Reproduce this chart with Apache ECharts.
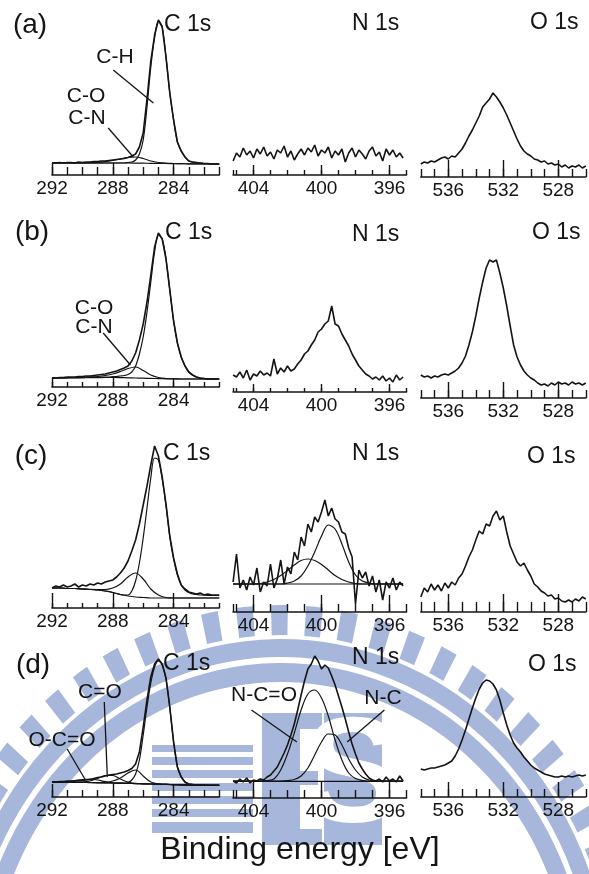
<!DOCTYPE html>
<html><head><meta charset="utf-8">
<script src="https://cdn.jsdelivr.net/npm/echarts@6/dist/echarts.min.js"></script>
<style>html,body{margin:0;padding:0;background:#fff}#c{width:589px;height:874px}</style>
</head><body><div id="c"></div>
<script>
// ---------- energy grids (eV) ----------
const eC = [292,291.75,291.5,291.25,291,290.75,290.5,290.25,290,289.75,289.5,289.25,289,288.75,288.5,288.25,288,287.75,287.5,287.25,287,286.75,286.5,286.25,286,285.75,285.5,285.25,285,284.75,284.5,284.25,284,283.75,283.5,283.25,283,282.75,282.5,282.25,282,281.75,281.5,281.25,281];
const eCc = [292,291.5,291,290.5,290,289.5,289,288.5,288,287.5,287,286.5,286,285.5,285,284.5,284,283.5,283,282.5,282,281.5,281];
const eN = [405.2,405,404.8,404.6,404.4,404.2,404,403.8,403.6,403.4,403.2,403,402.8,402.6,402.4,402.2,402,401.8,401.6,401.4,401.2,401,400.8,400.6,400.4,400.2,400,399.8,399.6,399.4,399.2,399,398.8,398.6,398.4,398.2,398,397.8,397.6,397.4,397.2,397,396.8,396.6,396.4,396.2,396,395.8,395.6,395.4,395.2];
const eNc = [405.2,404.8,404.4,404,403.6,403.2,402.8,402.4,402,401.6,401.2,400.8,400.4,400,399.6,399.2,398.8,398.4,398,397.6,397.2,396.8,396.4,396,395.6,395.2];
const eNb = [405.2,395.2];
const eO = [538,537.75,537.5,537.25,537,536.75,536.5,536.25,536,535.75,535.5,535.25,535,534.75,534.5,534.25,534,533.75,533.5,533.25,533,532.75,532.5,532.25,532,531.75,531.5,531.25,531,530.75,530.5,530.25,530,529.75,529.5,529.25,529,528.75,528.5,528.25,528,527.75,527.5,527.25,527,526.75,526.5,526.25,526];

// ---------- tick labels ----------
const cTicks = [292,288,284];
const nTicks = [404,400,396];
const oTicks = [536,532,528];

// ---------- (a) ----------
const aC    = [12,12,12.5,12,12.5,12.5,12,13,12.5,13, 13,13.5,13.5,14,14,14.5,15,15.5,16,16.5, 17.5,19,21,28,42,76,114,140,155,148, 118,82,55,33,24,18,14,13,12.5,12, 11.5,11.5,11,11,11];
const aC_CH = [12,12,12,12,12,12,12,12,12,12, 12,12,12,12,12,12,12,12,12,12, 12.5,13,15,21,35,68,108,137,154,148, 118,82,55,33,24,18,14,13,12.5,12, 11.5,11.5,11,11,11];
const aC_CO = [12,12,12,12,12,12.3,12.7,13.5,14.5,16,17.5,18,16.5,14,12.5,11.8,11.5,11.3,11.2,11.1,11,11,11];
const aC_bg = [12,12,12,12,12,12,12,12,12,12,12,11.9,11.8,11.7,11.6,11.5,11.4,11.3,11.2,11.1,11,11,11];
const aN = [14,22,18,27,20,24,17,26,21,28, 19,23,16,25,22,29,18,24,15,21, 26,20,27,23,30,19,25,22,28,17, 24,20,26,13,22,27,18,25,21,16, 24,28,19,23,14,26,20,25,18,22, 17];
const aO = [13,15,14,16,15,17,19,20,18,21, 20,24,28,34,41,47,54,61,70,74, 78,84,80,75,69,62,54,46,38,31, 26,23,21,18,17,15,16,13,14,12, 13,10,12,9,11,10,12,9,11];

// ---------- (b) ----------
const bC    = [9,9,9.5,9.5,10,10,10,10.5,10.5,11, 11,11.5,12,12.5,13,14,15,16,17.5,19, 21,26,34,47,63,85,112,140,154,148, 128,97,66,44,30,21,15,12,10,9, 8.5,8,8,8,8];
const bC_CH = [9,9,9,9,9.5,9.5,9.5,9.5,9.5,10, 10,10,10,10,10,10,10.5,10.5,11,11.5, 12.5,15,21,33,50,75,105,135,152,148, 128,97,66,44,30,21,15,12,10,9, 8.5,8,8,8,8];
const bC_CO = [9,9,9.2,9.4,9.6,10,10.5,11.5,13,15.5,18.5,20,16.5,12,9.5,8.5,8.2,8,8,8,8,8,8];
const bC_bg = [9,9,9,9.1,9.2,9.3,9.4,9.5,9.5,9.4,9.2,9,8.8,8.6,8.4,8.2,8.1,8,8,8,8,8,8];
const bN = [17,15,20,14,22,12,18,16,21,17, 19,16,33,18,24,20,26,21,23,28, 32,38,41,47,52,60,63,68,71,86, 68,66,58,52,46,38,32,26,22,18, 16,13,15,12,16,11,14,10,17,12, 15];
const bO = [23,21,22,20,22,21,23,24,23,25, 27,30,35,42,53,66,82,100,116,130, 138,136,138,125,110,92,72,53,41,33, 27,23,20,18,15,13,14,12,15,13, 16,14,15,13,16,14,15,13,15];

// ---------- (c) ----------
const cC    = [20,22,21,23,21,22,24,21,23,22, 24,23,25,24,26,27,28,31,35,40, 47,57,68,84,103,122,143,162,152,131, 104,72,50,34,23,19,16,15,14,15, 13,14,13,13,13];
const cC_CH = [20,20,20,20,19.5,19.5,19.5,19.5,19,19, 18.5,18.5,18,17.5,17,16.5,15.5,14.5,13.5,13, 13,17,27,45,70,100,130,150,148,129, 102,71,49,33,23,18,15.5,14,13.5,13, 13,12.5,12.5,12.5,12.5];
const cC_CO = [20,20,19.5,19.5,19,18.6,18.5,18.5,20,24,31,35,29,19,13,10.5,10,10,10,10,10,10,10];
const cC_bg = [20,20,19.5,19.5,19,18.5,18,17,15.5,13.5,12,11,10.5,10,10,10,10,10,10,10,10,10,10];
const cN = [30,58,24,32,22,35,27,44,20,30, 26,48,24,33,52,28,45,38,60,52, 75,66,88,80,95,90,100,112,96,104, 93,90,80,78,64,55,8,42,34,40, 26,36,20,32,12,30,24,34,22,30, 26];
const cN_c1 = [28,28,28,28,28.5,30,32.5,36.5,41.5,47,51.5,53,51.5,47.5,42,36.5,32.5,30,28.5,28,28,28,28,28,28,28];
const cN_c2 = [28,28,28,28,28,28,28,28,29,31,36,46,60,76,87,83,68,50,37,31,29,28,28,28,28,28];
const cN_bg = [28,28];
const cO = [15,24,20,28,22,27,21,29,24,30, 27,34,38,46,55,62,72,81,78,88, 86,96,101,92,96,80,66,58,50,46, 49,42,36,28,25,21,19,16,17,13, 14,11,10,12,10,13,11,15,13];

// ---------- (d) ----------
const dC     = [15,15,15.5,15.5,16,16,16,16.5,16.5,17, 17.5,18.5,19.5,20,21,22,22.5,23,24,25, 26.5,28.5,33,45,70,97,120,133,138,133, 119,90,55,30,20,15,13,12.5,12,12, 11.7,11.7,11.7,11.7,11.7];
const dC_CH  = [15,15,15,14.9,14.8,14.8,14.7,14.6,14.5,14.5, 14.4,14.3,14.2,14.2,14.1,14,14,13.9,13.8,13.8, 14.5,17,23,37,62,90,114,130,136,132, 118,89,55,30,20,15,13,12.5,12,12, 11.7,11.7,11.7,11.7,11.7];
const dC_CN  = [15,15,15,14.8,14.7,14.5,14.4,14.5,16,19,24,27,21,15,13,12.6,12.4,12.2,12,11.9,11.8,11.7,11.7];
const dC_CdO = [15,15,15,14.8,15,16,18.5,21.5,21.5,18,15,13.6,13.2,13,12.8,12.6,12.4,12.2,12,11.9,11.8,11.7,11.7];
const dC_OCO = [15,15,15.3,16.3,17.5,18,17,15.3,14.2,13.8,13.6,13.4,13.2,13,12.8,12.6,12.4,12.2,12,11.9,11.8,11.7,11.7];
const dC_bg  = [15,15,15,14.8,14.7,14.5,14.4,14.2,14,13.8,13.6,13.4,13.2,13,12.8,12.6,12.4,12.2,12,11.9,11.8,11.7,11.7];
const dN = [17,15,19,16,20,15,18,17,19,18, 21,23,27,31,38,45,53,63,74,88, 103,117,129,134,142,137,129,133,130,122, 113,102,91,79,66,54,44,35,29,24, 20,18,17,19,16,21,17,19,16,22, 17];
const dN_NCO = [17,17,17,17,17,17.5,19,28,44,65,88,104,108,100,82,58,38,25,19.5,17.5,17,17,17,17,17,17];
const dN_NC  = [17,17,17,17,17,17,17,17,17.5,18.5,22,30,43,56,64,63,53,39,28,21,18,17,17,17,17,17];
const dN_bg  = [16.7,16.7];
const dO = [28,27,28,29,29,30,31,32,34,36, 41,48,57,67,78,89,99,108,114,117, 116,113,107,97,84,72,62,54,49,45, 40,36,32,29,27,25,23,22,21,20, 20,21,20,21,20,21,22,21,22];

// ---------- annotation pointers [eV, height] ----------
const aPtrCH  = [[287.97,105],[285.33,72]];
const aPtrCO  = [[288.3,47],[286.65,18]];
const bPtrCO  = [[288.63,54],[286.84,22]];
const dPtrCdO = [[288.56,95],[288.36,20]];
const dPtrOCO = [[291.0,48],[289.8,17]];
const dPtrNCO = [[404.12,88],[401.45,56]];
const dPtrNC  = [[396.3,88],[398.49,56]];

// ================= build =================
const INK = '#141414';
const FONT = '"Liberation Sans", Arial, Helvetica, sans-serif';
const H = 170;
const cols = [
  {left:52,    width:167.2, min:281, max:292,   ticks:cTicks},
  {left:233.1, width:173.4, min:395, max:405.2, ticks:nTicks},
  {left:420.8, width:165,   min:526, max:538,   ticks:oTicks}
];
const rows = [
  {base:[175,175,177], minor:[8,5,8],  major:[12,10,17]},
  {base:[387,392,398], minor:[5,4,8],  major:[9,8,16]},
  {base:[608,612,612], minor:[5,8,10], major:[15,17,18]},
  {base:[797,798,797], minor:[7,8,8],  major:[13,17,15]}
];
const panelSeries = [
  [ [[eC,aC,0],[eC,aC_CH,1],[eCc,aC_CO,1],[eCc,aC_bg,1]], [[eN,aN,0]], [[eO,aO,0]] ],
  [ [[eC,bC,0],[eC,bC_CH,1],[eCc,bC_CO,1],[eCc,bC_bg,1]], [[eN,bN,0]], [[eO,bO,0]] ],
  [ [[eC,cC,0],[eC,cC_CH,1],[eCc,cC_CO,1],[eCc,cC_bg,1]], [[eN,cN,0],[eNc,cN_c1,1],[eNc,cN_c2,1],[eNb,cN_bg,1]], [[eO,cO,0]] ],
  [ [[eC,dC,0],[eC,dC_CH,1],[eCc,dC_CN,1],[eCc,dC_CdO,1],[eCc,dC_OCO,1],[eCc,dC_bg,1]], [[eN,dN,0],[eNc,dN_NCO,1],[eNc,dN_NC,1],[eNb,dN_bg,1]], [[eO,dO,0]] ]
];
const pointers = [[0,aPtrCH],[0,aPtrCO],[3,bPtrCO],[9,dPtrCdO],[9,dPtrOCO],[10,dPtrNCO],[10,dPtrNC]];

const zip = (e,v) => e.map((x,i) => [x, v[i]]);
const grid = [], xAxis = [], yAxis = [], series = [];
rows.forEach((r, ri) => {
  cols.forEach((c, ci) => {
    const k = ri*3 + ci;
    grid.push({left:c.left, width:c.width, top:r.base[ci]-H, height:H, containLabel:false, z:5});
    const tickStyle = {color:INK, width:1.4};
    xAxis.push({type:'value', gridIndex:k, inverse:true, min:c.min, max:c.max, interval:1, position:'bottom', z:5,
      axisLine:{show:true, onZero:false, lineStyle:{color:INK, width:1.6}},
      axisTick:{show:true, inside:true, length:r.minor[ci], lineStyle:tickStyle},
      axisLabel:{show:false}, splitLine:{show:false}});
    xAxis.push({type:'value', gridIndex:k, inverse:true, min:c.min, max:c.max, position:'bottom', z:5,
      axisLine:{show:false, onZero:false},
      axisTick:{show:true, inside:true, length:r.major[ci], customValues:c.ticks, lineStyle:tickStyle},
      axisLabel:{show:true, customValues:c.ticks, color:INK, fontSize:19, fontFamily:FONT, margin:4,
                 showMinLabel:true, showMaxLabel:true},
      splitLine:{show:false}});
    yAxis.push({type:'value', gridIndex:k, min:0, max:H, show:false});
    panelSeries[ri][ci].forEach(([e, v, fit]) => {
      series.push({type:'line', xAxisIndex:2*k, yAxisIndex:k, data:zip(e, v), symbol:'none', z:6,
        smooth: fit ? 0.35 : false, silent:true, animation:false, clip:false,
        lineStyle:{color:INK, width: fit ? 1.2 : 1.6}});
    });
  });
});
pointers.forEach(([k, pts]) => {
  series.push({type:'line', xAxisIndex:2*k, yAxisIndex:k, data:pts, symbol:'none', silent:true, z:6,
    animation:false, clip:false, lineStyle:{color:INK, width:1.3}});
});

function txt(s, x, y, size, align) {
  return {type:'text', x:x, y:y, silent:true, z:100,
    style:{text:s, fill:INK, font: size + 'px ' + FONT, fontSize:size, fontFamily:FONT,
      align: align || 'center', verticalAlign:'middle',
      textAlign: align || 'center', textVerticalAlign:'middle'}};
}
// ---------- background watermark (decorative, elliptical seal) ----------
const WM = '#a7b7db';
const deg = Math.PI/180;
const ring = [];
function sector(r0, r, a0, a1) {
  return {type:'sector', z:-20, silent:true,
    shape:{cx:0, cy:0, r0:r0, r:r, startAngle:a0*deg, endAngle:a1*deg, clockwise:true},
    style:{fill:WM}};
}
ring.push(sector(343, 361, 185, 355));
ring.push(sector(318, 337, 185, 355));
for (let a = 190; a < 352; a += 5.6) ring.push(sector(365, 395, a, a + 2.7));
const wm = [{type:'group', x:281, y:1000, scaleX:0.914, scaleY:1, z:-20, silent:true, children:ring}];
function rect(x, y, w, h, fill) {
  return {type:'rect', z:-19, silent:true, shape:{x:x, y:y, width:w, height:h}, style:{fill:fill || WM}};
}
wm.push(rect(152, 745, 101, 88));
for (let y = 752; y < 830; y += 13) wm.push(rect(152, y, 101, 5, '#ffffff'));
wm.push(rect(262, 713, 38, 132));
wm.push(rect(300, 713, 22, 16));
wm.push(rect(300, 771, 18, 14));
wm.push(rect(300, 829, 22, 16));
wm.push(rect(324, 713, 58, 132));
wm.push({type:'text', x:353, y:781, z:-18, silent:true,
  style:{text:'S', fill:'#ffffff', font:'bold 150px "Liberation Sans", Arial, sans-serif',
    align:'center', verticalAlign:'middle', textAlign:'center', textVerticalAlign:'middle'}});

const graphic = wm.concat([
  txt('(a)', 30, 25, 28), txt('C 1s', 164, 25, 23, 'left'), txt('N 1s', 352, 24, 23, 'left'), txt('O 1s', 530, 23, 23, 'left'),
  txt('(b)', 32, 232, 28), txt('C 1s', 165, 233, 23, 'left'), txt('N 1s', 352, 235, 23, 'left'), txt('O 1s', 532, 233, 23, 'left'),
  txt('(c)', 31, 456, 28), txt('C 1s', 163, 454, 23, 'left'), txt('N 1s', 352, 454, 23, 'left'), txt('O 1s', 527, 457, 23, 'left'),
  txt('(d)', 33, 665, 28), txt('C 1s', 163, 664, 23, 'left'), txt('N 1s', 352, 658, 23, 'left'), txt('O 1s', 528, 665, 23, 'left'),
  txt('C-H', 115, 57, 21), txt('C-O', 86, 96, 21), txt('C-N', 87, 118, 21),
  txt('C-O', 94, 308, 21), txt('C-N', 94, 327, 21),
  txt('C=O', 100, 692, 21), txt('O-C=O', 62, 740, 21), txt('N-C=O', 264, 695, 21), txt('N-C', 383, 698, 21),
  txt('Binding energy [eV]', 300, 850, 32)
]);

const chart = echarts.init(document.getElementById('c'), null, {renderer:'canvas'});
chart.setOption({animation:false, backgroundColor:'#ffffff', grid, xAxis, yAxis, series, graphic});
</script>
</body></html>
